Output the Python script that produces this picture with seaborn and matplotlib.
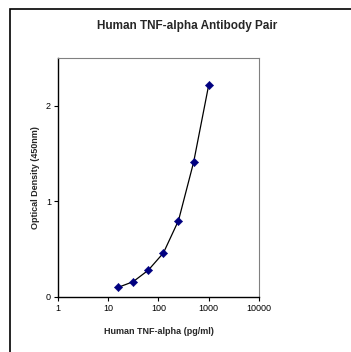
import matplotlib
matplotlib.use("Agg")
import matplotlib.pyplot as plt
import seaborn as sns
import pandas as pd
from matplotlib.patches import Rectangle

concentration = [15.6, 31.25, 62.5, 125, 250, 500, 1000]
optical_density = [0.10, 0.16, 0.28, 0.46, 0.80, 1.41, 2.22]
x_ticks = [1, 10, 100, 1000, 10000]
y_ticks = [0, 1, 2]

sns.set_style("white")
plt.rcParams["font.family"] = ["Liberation Sans", "DejaVu Sans"]

df = pd.DataFrame({"conc": concentration, "od": optical_density})

fig = plt.figure(figsize=(3.51, 3.52), dpi=100)
fig.patches.append(Rectangle((10 / 351, -0.1), 1.1, 1 - 9 / 352 + 0.1,
                             transform=fig.transFigure, fill=False,
                             edgecolor="black", linewidth=1.2))
ax = fig.add_axes([58 / 351, 1 - 297 / 352, 201 / 351, 239 / 352])

sns.lineplot(data=df, x="conc", y="od", ax=ax, color="black", linewidth=0.9)
sns.scatterplot(data=df, x="conc", y="od", ax=ax, marker="D", s=18,
                color="#000080", edgecolor="#000080", zorder=3)

ax.set_xscale("log")
ax.set_xlim(1, 10000)
ax.set_ylim(0, 2.5)
ax.set_xticks(x_ticks)
ax.set_xticklabels([str(t) for t in x_ticks])
ax.minorticks_off()
ax.set_yticks(y_ticks)
ax.tick_params(axis="both", which="major", direction="out", length=3,
               width=0.8, labelsize=6.5, colors="black", pad=2)
ax.tick_params(axis="x", bottom=True)
ax.tick_params(axis="y", left=True)

for side in ["top", "right"]:
    ax.spines[side].set_color("#808080")
    ax.spines[side].set_linewidth(0.8)
for side in ["left", "bottom"]:
    ax.spines[side].set_color("black")
    ax.spines[side].set_linewidth(1.0)

ax.set_xlabel("Human TNF-alpha (pg/ml)", fontsize=6.5, fontweight="bold", labelpad=10)
ax.set_ylabel("Optical Density (450nm)", fontsize=6.5, fontweight="bold", labelpad=4)
fig.text(187 / 351, 1 - 26 / 352, "Human TNF-alpha Antibody Pair",
         ha="center", va="center", fontsize=8.5, fontweight="bold")

fig.savefig("out.png", dpi=100)
